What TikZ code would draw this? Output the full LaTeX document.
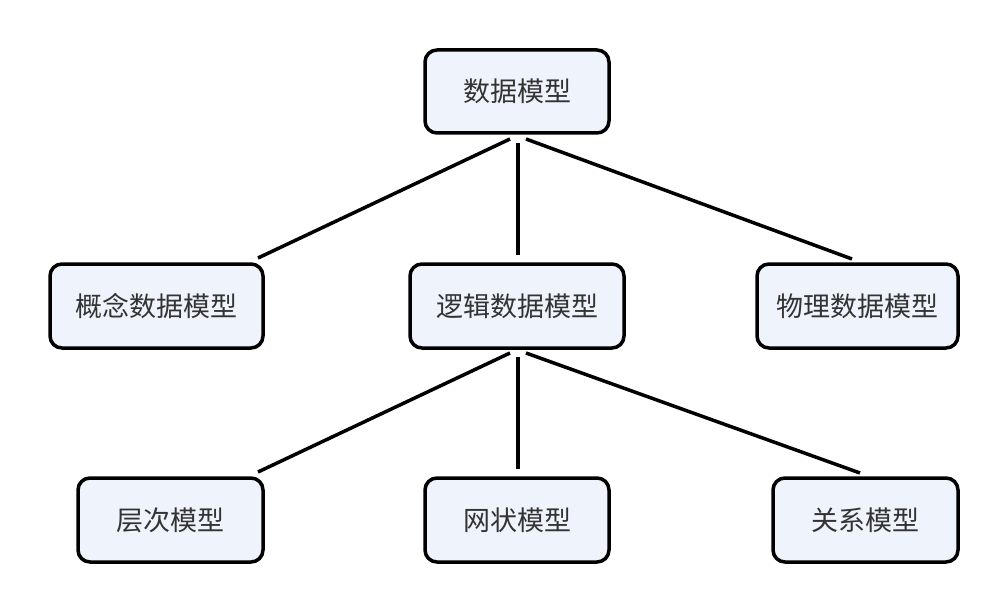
\documentclass[tikz,border=0pt]{standalone}
\usepackage{fontspec}
\newfontfamily\cjk{Noto Sans CJK SC}
\definecolor{boxfill}{HTML}{EEF3FC}
\definecolor{txt}{HTML}{333333}
\begin{document}
\begin{tikzpicture}[x=1pt,y=-1pt,
  mbox/.style={draw=black,line width=3.5pt,fill=boxfill,rounded corners=12pt,
    font=\cjk\fontsize{27}{32}\selectfont,text=txt,inner sep=0pt},
  conn/.style={line width=3.5pt,draw=black}]
\useasboundingbox (0,0) rectangle (1008,612);
\node[mbox,minimum width=184pt,minimum height=83pt] (dm) at (517,91.5) {数据模型};
\node[mbox,minimum width=213pt,minimum height=84pt] (gn) at (156.5,306) {概念数据模型};
\node[mbox,minimum width=214pt,minimum height=84pt] (lj) at (517,306) {逻辑数据模型};
\node[mbox,minimum width=201pt,minimum height=84pt] (wl) at (857.5,306) {物理数据模型};
\node[mbox,minimum width=185pt,minimum height=84pt] (cc) at (170.5,520) {层次模型};
\node[mbox,minimum width=184pt,minimum height=84pt] (wz) at (517,520) {网状模型};
\node[mbox,minimum width=185pt,minimum height=84pt] (gx) at (865.5,520) {关系模型};
\coordinate (d1) at (510,139);
\coordinate (d2) at (518,143);
\coordinate (d3) at (526,139);
\coordinate (g1) at (258,258);
\coordinate (l1) at (518,255);
\coordinate (w1) at (852,259);
\draw[conn] (d1) -- (g1);
\draw[conn] (d2) -- (l1);
\draw[conn] (d3) -- (w1);
\coordinate (e1) at (510,353);
\coordinate (e2) at (518,357);
\coordinate (e3) at (526,353);
\coordinate (c1) at (258,472);
\coordinate (z1) at (518,469);
\coordinate (x1) at (860,473);
\draw[conn] (e1) -- (c1);
\draw[conn] (e2) -- (z1);
\draw[conn] (e3) -- (x1);
\end{tikzpicture}
\end{document}
